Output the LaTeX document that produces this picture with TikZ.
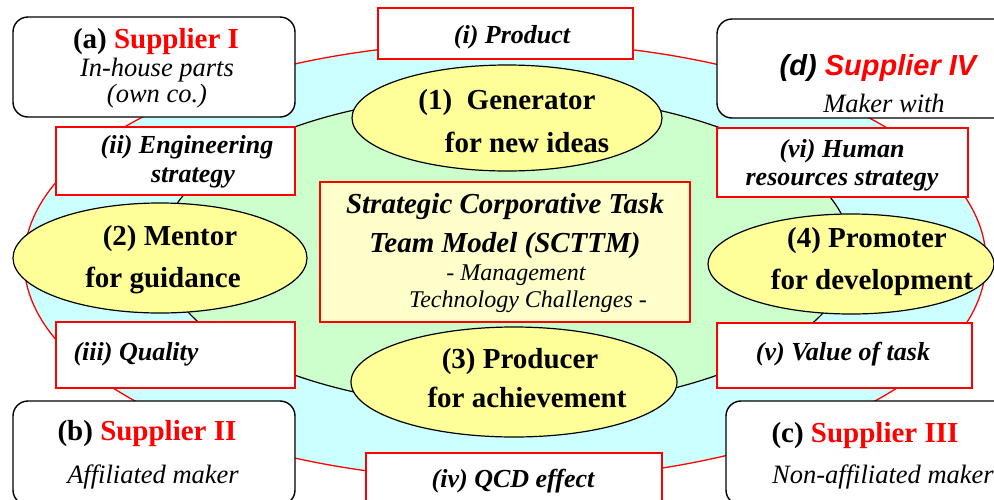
\documentclass[tikz,border=0pt]{standalone}
\usepackage{fontspec}
\setmainfont{Liberation Serif}
\newfontfamily\arialf{Liberation Sans}
\definecolor{cyanf}{HTML}{CCFFFF}
\definecolor{greenf}{HTML}{CCFFCC}
\definecolor{yellf}{HTML}{FFFF99}
\definecolor{boxf}{HTML}{FFFFCC}
\definecolor{redl}{HTML}{FF0000}
\begin{document}
\begin{tikzpicture}[x=1pt,y=-1pt,
  txt/.style={anchor=base, inner sep=0pt},
  bigb/.style={txt, font=\fontsize{29}{34}\selectfont\bfseries},
  labi/.style={txt, font=\fontsize{26}{30}\selectfont\bfseries\itshape},
  subi/.style={txt, font=\fontsize{26.5}{30}\selectfont\itshape},
  ctitle/.style={txt, font=\fontsize{29}{34}\selectfont\bfseries\itshape},
  csub/.style={txt, font=\fontsize{24}{28}\selectfont\itshape},
  redbox/.style={draw=redl, line width=1.4pt, fill=white},
  supbox/.style={draw=black, line width=1.4pt, fill=white, rounded corners=15pt},
  yell/.style={draw=black, line width=1.2pt, fill=yellf}
]
\useasboundingbox (0,0) rectangle (994,499);
\path[clip] (0,0) rectangle (994,499);
% outer and inner ellipses
\draw[draw=redl, line width=1.3pt, fill=cyanf] (505,261) ellipse [x radius=481, y radius=219];
\draw[draw=black, line width=1.2pt, fill=greenf] (506,251) ellipse [x radius=345, y radius=157];
% yellow ellipses
\draw[yell] (507,118) ellipse [x radius=155, y radius=53];
\draw[yell] (160,258) ellipse [x radius=147, y radius=55];
\draw[yell] (514,382) ellipse [x radius=163, y radius=55];
\draw[yell] (851,264) ellipse [x radius=143, y radius=50];
% center box
\draw[draw=redl, line width=1.4pt, fill=boxf] (320,182) rectangle (690,322);
% supplier boxes
\draw[supbox] (13,17) rectangle (295,117);
\draw[supbox] (717,19) rectangle (1010,118);
\draw[supbox] (13,401) rectangle (295,505);
\draw[supbox] (726,401) rectangle (1010,505);
% label boxes
\draw[redbox] (378,8) rectangle (633,59);
\draw[redbox] (56,127) rectangle (295,195);
\draw[redbox] (717,128) rectangle (968,197);
\draw[redbox] (56,322) rectangle (295,388);
\draw[redbox] (717,323) rectangle (972,388);
\draw[redbox] (366,453) rectangle (662,520);
% texts: suppliers
\node[bigb] (aT) at (156,48) {(a) \textcolor{redl}{Supplier I}};
\node[subi] (aS1) at (157,76) {In-house parts};
\node[subi] (aS2) at (157,102) {(own co.)};
\node[txt, font=\fontsize{29}{34}\selectfont\arialf\bfseries\itshape] (dT) at (878,75) {(d) \textcolor{redl}{Supplier IV}};
\node[subi] (dS) at (884,112) {Maker with};
\node[bigb] (bT) at (147,440) {(b) \textcolor{redl}{Supplier II}};
\node[subi] (bS) at (153,483) {Affiliated maker};
\node[bigb] (cT) at (865,442) {(c) \textcolor{redl}{Supplier III}};
\node[subi, anchor=base west] (cS) at (772,483) {Non-affiliated maker};
% label texts
\node[labi] (iT) at (512,43) {(i) Product};
\node[labi] (iiT1) at (187,153) {(ii) Engineering};
\node[labi] (iiT2) at (193,182) {strategy};
\node[labi] (viT1) at (842,157) {(vi) Human};
\node[labi] (viT2) at (842,185) {resources strategy};
\node[labi] (iiiT) at (136,360) {(iii) Quality};
\node[labi] (vT) at (843,360) {(v) Value of task};
\node[labi] (ivT) at (513,487) {(iv) QCD effect};
% ellipse texts
\node[bigb] (e1a) at (507,109) {(1)\ \ Generator};
\node[bigb] (e1b) at (527,152) {for new ideas};
\node[bigb] (e2a) at (170,245) {(2) Mentor};
\node[bigb] (e2b) at (163,287) {for guidance};
\node[bigb] (e3a) at (520,368) {(3) Producer};
\node[bigb] (e3b) at (527,407) {for achievement};
\node[bigb] (e4a) at (867,247) {(4) Promoter};
\node[bigb] (e4b) at (872,289) {for development};
% center texts
\node[ctitle] (c1) at (505,213) {Strategic Corporative Task};
\node[ctitle] (c2) at (505,252) {Team Model (SCTTM)};
\node[csub] (c3) at (516,280) {- Management};
\node[csub] (c4) at (528,307) {Technology Challenges -};
\end{tikzpicture}
\end{document}
